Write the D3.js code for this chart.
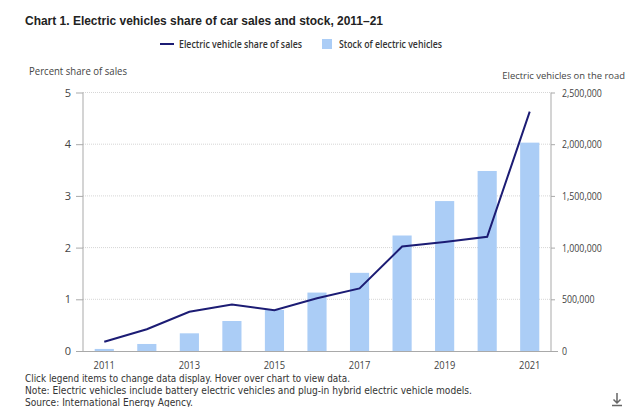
<!DOCTYPE html>
<html>
<head>
<meta charset="utf-8">
<script src="https://cdn.jsdelivr.net/npm/d3@7"></script>
<style>
  body { margin: 0; background: #fff; }
  svg { display: block; }
</style>
</head>
<body>
<script>
let years = ['2011', '2012', '2013', '2014', '2015', '2016', '2017', '2018', '2019', '2020', '2021'];
let shareOfSales = [0.18, 0.42, 0.76, 0.90, 0.79, 1.02, 1.21, 2.02, 2.11, 2.21, 4.63];
let stockOfEVs = [20000, 68000, 171000, 290000, 397000, 565000, 756000, 1117000, 1450000, 1741000, 2015000];
let leftTicks = [0, 1, 2, 3, 4, 5];
let rightTicks = [0, 500000, 1000000, 1500000, 2000000, 2500000];
let xLabels = ['2011', '2013', '2015', '2017', '2019', '2021'];

let width = 630;
let height = 407;
let svg = d3.select('body').append('svg')
    .attr('width', width)
    .attr('height', height);

// squeeze text to the width seen in the picture
function fit(sel, w) {
    sel.attr('textLength', w).attr('lengthAdjust', 'spacingAndGlyphs');
}
function squeeze(sel, k) {
    sel.each(function () {
        let len = this.getComputedTextLength();
        d3.select(this).attr('textLength', len * k).attr('lengthAdjust', 'spacingAndGlyphs');
    });
}
// shrink the font until the text is w wide
function shrinkTo(sel, w) {
    let node = sel.node();
    let fs = parseFloat(sel.style('font-size'));
    sel.style('font-size', (fs * w / node.getComputedTextLength()) + 'px');
}

let x = d3.scaleBand()
    .domain(years)
    .range([83, 551])
    .paddingInner(0.55)
    .paddingOuter(0.275);

let yLeft = d3.scaleLinear().domain([0, 5]).range([351, 92.5]);
let yRight = d3.scaleLinear().domain([0, 2500000]).range([351, 92.5]);

// grid lines
svg.selectAll('.grid')
    .data(leftTicks.filter(d => d > 0))
    .join('line')
    .attr('class', 'grid')
    .attr('x1', 83)
    .attr('x2', 551)
    .attr('y1', d => yLeft(d))
    .attr('y2', d => yLeft(d))
    .attr('stroke', '#d6d6d6')
    .attr('stroke-dasharray', '1,1');

// bars
svg.selectAll('.bar')
    .data(stockOfEVs)
    .join('rect')
    .attr('class', 'bar')
    .attr('x', (d, i) => x(years[i]))
    .attr('width', x.bandwidth())
    .attr('y', d => yRight(d))
    .attr('height', d => yRight(0) - yRight(d))
    .attr('fill', '#abcdf6');

// axes
let leftAxis = svg.append('g')
    .attr('transform', 'translate(83,0)')
    .call(d3.axisLeft(yLeft).tickValues(leftTicks).tickFormat(d3.format('d')).tickSize(7).tickPadding(5));
let rightAxis = svg.append('g')
    .attr('transform', 'translate(551,0)')
    .call(d3.axisRight(yRight).tickValues(rightTicks).tickFormat(d3.format(',')).tickSize(4).tickPadding(7));
let bottomAxis = svg.append('g')
    .attr('transform', 'translate(0,351)')
    .call(d3.axisBottom(x).tickValues(xLabels).tickSize(0).tickPadding(10));

[leftAxis, rightAxis, bottomAxis].forEach(g => {
    g.select('.domain').attr('stroke', '#a9a9a9');
    g.selectAll('.tick line').attr('stroke', '#a9a9a9');
    g.selectAll('text')
        .attr('fill', '#444')
        .style('font-family', 'Open Sans, sans-serif')
        .style('font-size', '11px');
});
leftAxis.select('.domain').attr('d', 'M0,92.5V351');
rightAxis.select('.domain').attr('d', 'M0,92.5V351');
bottomAxis.select('.domain').attr('d', 'M76,0.5H558');
squeeze(rightAxis.selectAll('text'), 0.8);
squeeze(bottomAxis.selectAll('text'), 0.85);

// share line
let line = d3.line()
    .x((d, i) => x(years[i]) + x.bandwidth() / 2)
    .y(d => yLeft(d));
svg.append('path')
    .datum(shareOfSales)
    .attr('d', line)
    .attr('fill', 'none')
    .attr('stroke', '#1c1c74')
    .attr('stroke-width', 2);

// title
svg.append('text')
    .attr('x', 25)
    .attr('y', 25)
    .style('font-family', 'Liberation Sans, Arial, sans-serif')
    .style('font-weight', 'bold')
    .style('font-size', '13px')
    .attr('fill', '#222')
    .text('Chart 1. Electric vehicles share of car sales and stock, 2011–21')
    .call(fit, 358);

// legend
svg.append('line')
    .attr('x1', 160).attr('x2', 174)
    .attr('y1', 44).attr('y2', 44)
    .attr('stroke', '#1c1c74')
    .attr('stroke-width', 2);
svg.append('text')
    .attr('x', 179).attr('y', 48)
    .style('font-family', 'Open Sans, sans-serif')
    .style('font-size', '10.5px')
    .style('font-weight', '600')
    .attr('fill', '#333')
    .text('Electric vehicle share of sales')
    .call(fit, 123);
svg.append('rect')
    .attr('x', 322).attr('y', 39)
    .attr('width', 10).attr('height', 10)
    .attr('fill', '#abcdf6');
svg.append('text')
    .attr('x', 339).attr('y', 48)
    .style('font-family', 'Open Sans, sans-serif')
    .style('font-size', '10.5px')
    .style('font-weight', '600')
    .attr('fill', '#333')
    .text('Stock of electric vehicles')
    .call(fit, 103);

// axis titles
svg.append('text')
    .attr('x', 29).attr('y', 75)
    .style('font-family', 'Open Sans, sans-serif')
    .style('font-size', '11px')
    .attr('fill', '#444')
    .text('Percent share of sales')
    .call(fit, 98);
svg.append('text')
    .attr('x', 625).attr('y', 79)
    .attr('text-anchor', 'end')
    .style('font-family', 'Liberation Sans Narrow, Open Sans, sans-serif')
    .style('font-size', '11px')
    .attr('fill', '#444')
    .text('Electric vehicles on the road')
    .call(shrinkTo, 123);

// notes
let notes = [
    'Click legend items to change data display. Hover over chart to view data.',
    'Note: Electric vehicles include battery electric vehicles and plug-in hybrid electric vehicle models.',
    'Source: International Energy Agency.'
];
let noteWidths = [325, 447, 168];
svg.selectAll('.note')
    .data(notes)
    .join('text')
    .attr('class', 'note')
    .attr('x', 25)
    .attr('y', (d, i) => 382 + i * 12)
    .style('font-family', 'DejaVu Sans, sans-serif')
    .style('font-size', '10.5px')
    .attr('fill', '#333')
    .text(d => d)
    .each(function (d, i) { d3.select(this).call(fit, noteWidths[i]); });

// download icon
let icon = svg.append('g').attr('stroke', '#666').attr('fill', 'none').attr('stroke-width', 1.5);
icon.append('path').attr('d', 'M617,393V403M613.5,399.5L617,403L620.5,399.5');
icon.append('path').attr('d', 'M612,405.5H622');
</script>
</body>
</html>
